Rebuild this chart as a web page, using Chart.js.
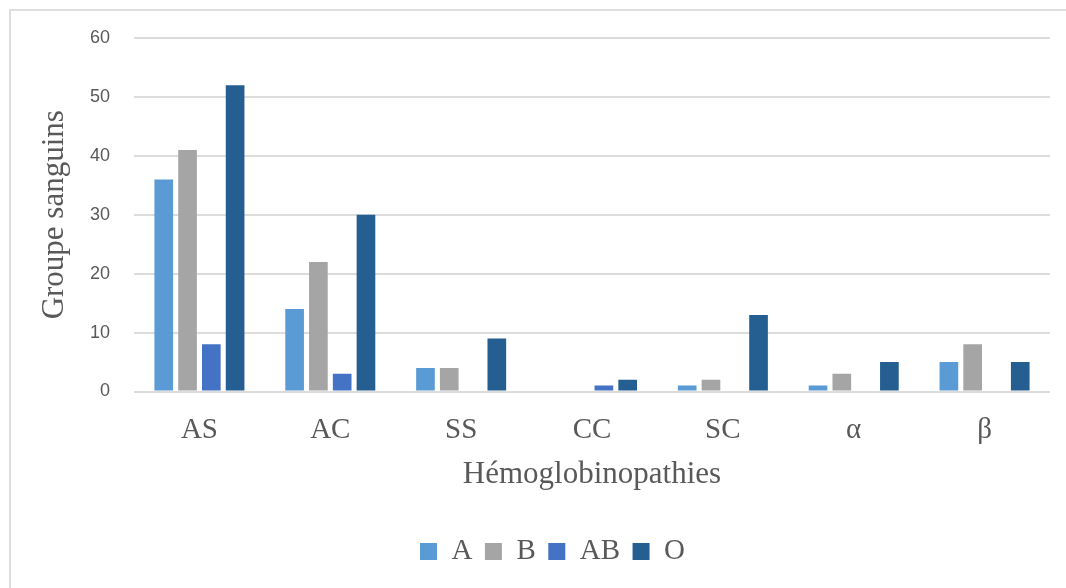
<!DOCTYPE html>
<html>
<head>
<meta charset="utf-8">
<script src="https://cdn.jsdelivr.net/npm/chart.js@4.4.0/dist/chart.umd.min.js"></script>
<style>
    html, body { margin: 0; padding: 0; background: #fff; overflow: hidden; }
    #frame {
        position: absolute; left: 9px; top: 9px;
        width: 2000px; height: 2000px;
        border-left: 2px solid #dedede; border-top: 2px solid #dedede;
    }
    #hbChart { position: absolute; left: 0; top: 0; }
</style>
</head>
<body>
<div id="frame"></div>
<canvas id="hbChart" width="1066" height="588"></canvas>
<script>
// categories (x axis)
const hemoglobinopathies = ['AS', 'AC', 'SS', 'CC', 'SC', 'α', 'β'];

// blood groups, values
const groupA = [36, 14, 4, 0, 1, 1, 5];
const groupB = [41, 22, 4, 0, 2, 3, 8];
const groupAB = [8, 3, 0, 1, 0, 0, 0];
const groupO = [52, 30, 9, 2, 13, 5, 5];

// y axis ticks
const yMin = 0;
const yMax = 60;
const yStep = 10;

const textColor = '#595959';
const serif = '"Liberation Serif", "Times New Roman", serif';

const ctx = document.getElementById('hbChart').getContext('2d');
const hbChart = new Chart(ctx, {
    type: 'bar',
    data: {
        labels: hemoglobinopathies,
        datasets: [
            { label: 'A', data: groupA, backgroundColor: '#5b9bd5' },
            { label: 'B', data: groupB, backgroundColor: '#a5a5a5' },
            { label: 'AB', data: groupAB, backgroundColor: '#4472c4' },
            { label: 'O', data: groupO, backgroundColor: '#255e91' }
        ]
    },
    options: {
        responsive: false,
        animation: false,
        datasets: {
            bar: {
                categoryPercentage: 0.727,
                barPercentage: 0.785
            }
        },
        layout: {
            padding: { left: 55, right: 16, top: 38, bottom: 12 }
        },
        scales: {
            x: {
                grid: { display: false, drawTicks: false },
                border: { display: false },
                ticks: {
                    color: textColor,
                    padding: 21,
                    font: { family: serif, size: 29 }
                },
                title: {
                    display: true,
                    text: 'Hémoglobinopathies',
                    color: textColor,
                    padding: { top: 0, bottom: 31 },
                    font: { family: serif, size: 31 }
                },
                afterFit: (scale) => { scale.height = 133; }
            },
            y: {
                min: yMin,
                max: yMax,
                grid: { color: '#dcdcdc', lineWidth: 2, drawTicks: false },
                border: { display: false },
                ticks: {
                    stepSize: yStep,
                    color: textColor,
                    padding: 24,
                    font: { family: '"Liberation Sans", Arial, sans-serif', size: 18 }
                },
                title: {
                    display: true,
                    text: 'Groupe sanguins',
                    color: textColor,
                    padding: { top: -19, bottom: 0 },
                    font: { family: serif, size: 31 }
                },
                afterFit: (scale) => { scale.width = 79; }
            }
        },
        plugins: {
            legend: {
                position: 'bottom',
                labels: {
                    boxWidth: 17,
                    boxHeight: 17,
                    padding: 12.5,
                    color: textColor,
                    font: { family: serif, size: 29 }
                }
            },
            tooltip: { enabled: false }
        }
    }
});
</script>
</body>
</html>
